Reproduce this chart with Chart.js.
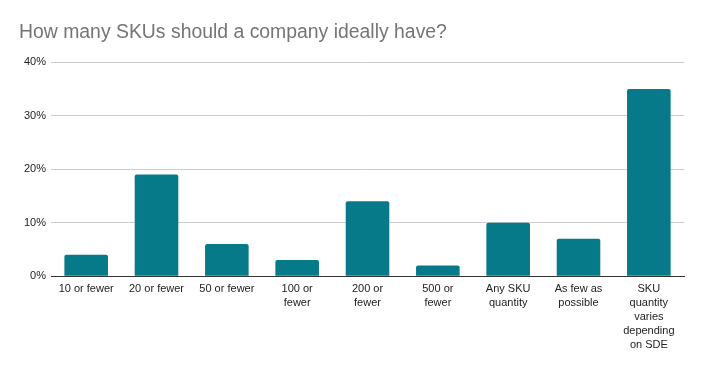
<!DOCTYPE html>
<html lang="en">
<head>
    <meta charset="UTF-8">
    <title>SKU Survey</title>
    <script src="https://cdn.jsdelivr.net/npm/chart.js"></script>
    <style>
        body {
            margin: 0;
            background: #ffffff;
        }

        .chart-container {
            width: 702px;
            height: 371px;
        }
    </style>
</head>
<body>
    <div class="chart-container">
        <canvas id="skuChart"></canvas>
    </div>

    <script>
        const categories = [
            '10 or fewer',
            '20 or fewer',
            '50 or fewer',
            ['100 or', 'fewer'],
            ['200 or', 'fewer'],
            ['500 or', 'fewer'],
            ['Any SKU', 'quantity'],
            ['As few as', 'possible'],
            ['SKU', 'quantity', 'varies', 'depending', 'on SDE']
        ];
        const shares = [4, 19, 6, 3, 14, 2, 10, 7, 35];
        const yTicks = [0, 10, 20, 30, 40];

        const ctx = document.getElementById('skuChart').getContext('2d');
        new Chart(ctx, {
            type: 'bar',
            data: {
                labels: categories,
                datasets: [{
                    data: shares,
                    backgroundColor: '#077a8a',
                    borderRadius: 2,
                    borderSkipped: 'bottom',
                    categoryPercentage: 0.62,
                    barPercentage: 1
                }]
            },
            options: {
                responsive: true,
                maintainAspectRatio: false,
                animation: false,
                layout: {
                    padding: { left: 19, right: 18, top: 4, bottom: 13 }
                },
                plugins: {
                    legend: { display: false },
                    tooltip: { enabled: false },
                    title: {
                        display: true,
                        text: 'How many SKUs should a company ideally have?',
                        align: 'start',
                        color: '#757575',
                        font: { family: 'Liberation Sans, Arial, sans-serif', size: 19.4, weight: 'normal' },
                        padding: { top: 17, bottom: 18 }
                    }
                },
                scales: {
                    x: {
                        grid: { display: false, drawTicks: false },
                        border: { color: '#333333', width: 1 },
                        ticks: {
                            color: '#222222',
                            maxRotation: 0,
                            autoSkip: false,
                            padding: 6,
                            font: { family: 'Liberation Sans, Arial, sans-serif', size: 11, lineHeight: 1.27 }
                        }
                    },
                    y: {
                        min: 0,
                        max: 40,
                        afterBuildTicks: axis => {
                            axis.ticks = yTicks.map(v => ({ value: v }));
                        },
                        grid: { color: '#cccccc', drawTicks: false },
                        border: { display: false },
                        ticks: {
                            color: '#222222',
                            padding: 5,
                            font: { family: 'Liberation Sans, Arial, sans-serif', size: 11 },
                            callback: value => value + '%'
                        }
                    }
                }
            }
        });
    </script>
</body>
</html>
